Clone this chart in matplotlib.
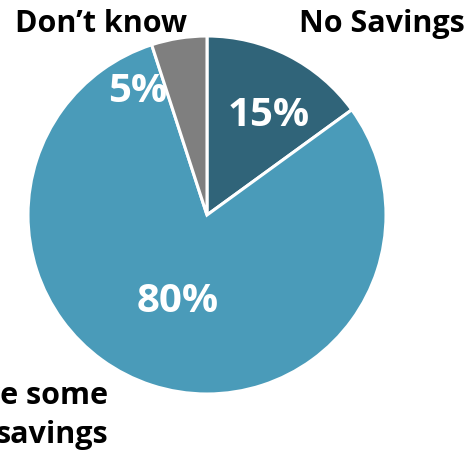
import matplotlib
matplotlib.use("Agg")
import matplotlib.pyplot as plt

# savings breakdown
labels = ["No Savings", "Have some\nsavings", "Don\u2019t know"]
shares = [15, 80, 5]
colors = ["#306479", "#4A9BB9", "#7F7F7F"]

plt.rcParams['font.family'] = ['Open Sans', 'DejaVu Sans']

fig = plt.figure(figsize=(4.68, 4.56), dpi=100)
ax = fig.add_axes([0, 0, 1, 1])

cx, cy, r = 207, 456 - 216, 179
ax.pie(shares, colors=colors, startangle=90, counterclock=False,
       center=(cx, cy), radius=r, frame=True,
       wedgeprops=dict(edgecolor='white', linewidth=2.2))
ax.set_xlim(0, 468)
ax.set_ylim(0, 456)
ax.set_aspect('equal')
ax.axis('off')

# percentage labels
pct_pos = [(269, 456 - 116), (178, 456 - 301), (138, 456 - 92)]
for (x, y), v in zip(pct_pos, shares):
    ax.text(x, y, f"{v}%", color='white', fontsize=29, fontweight='bold',
            ha='center', va='center')

# category labels
ax.text(101, 456 - 32, labels[2], fontsize=22, fontweight='bold',
        ha='center', va='baseline')
ax.text(382, 456 - 32, labels[0], fontsize=22, fontweight='bold',
        ha='center', va='baseline')
ax.text(108, 456 - 443, labels[1], fontsize=22, fontweight='bold',
        ha='right', va='baseline', multialignment='right', linespacing=1.4)

fig.savefig("out.png", dpi=100)
